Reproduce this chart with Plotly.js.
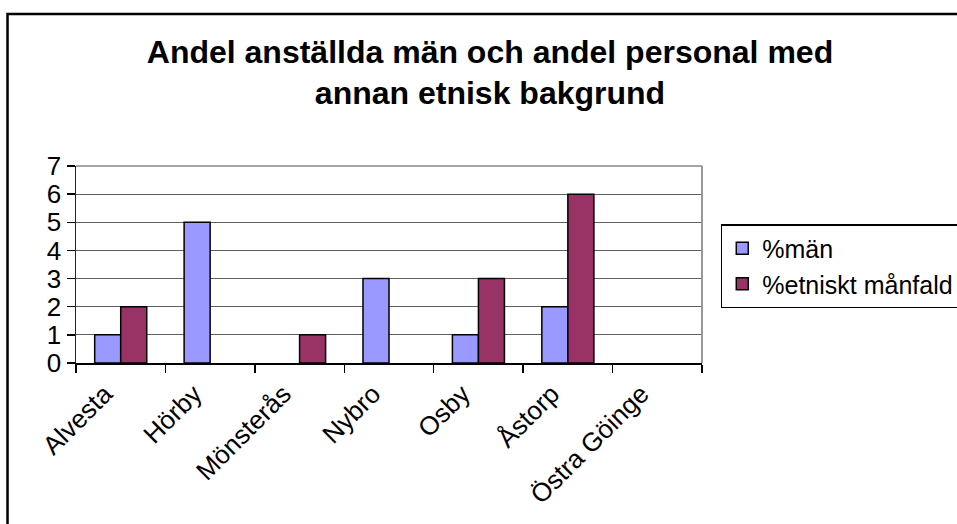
<!DOCTYPE html>
<html>
<head>
<meta charset="utf-8">
<script src="https://cdn.plot.ly/plotly-3.0.1.min.js"></script>
<style>
  html, body { margin: 0; padding: 0; background: #fff; }
  #chart { width: 957px; height: 524px; }
</style>
</head>
<body>
<div id="chart"></div>
<script>
var categories = ["Alvesta", "Hörby", "Mönsterås", "Nybro", "Osby", "Åstorp", "Östra Göinge"];
var seriesNames = ["%män", "%etniskt månfald"];
var menValues = [1, 5, 0, 3, 1, 2, 0];
var ethnicValues = [2, 0, 1, 0, 3, 6, 0];
var yTicks = [0, 1, 2, 3, 4, 5, 6, 7];
var titleText = "Andel anställda män och andel personal med<br>annan etnisk bakgrund";

var FONT = "Liberation Sans, Arial, sans-serif";

function hideZero(arr) { return arr.map(function (v) { return v === 0 ? null : v; }); }

var traces = [
  {
    type: "bar", name: seriesNames[0], x: categories, y: hideZero(menValues),
    marker: { color: "#9999FF", line: { color: "#000", width: 1.5 } },
    legendgroup: "a", hoverinfo: "x+y"
  },
  {
    type: "bar", name: seriesNames[1], x: categories, y: hideZero(ethnicValues),
    marker: { color: "#993366", line: { color: "#000", width: 1.5 } },
    legendgroup: "b", hoverinfo: "x+y"
  }
];

var layout = {
  width: 957, height: 524,
  paper_bgcolor: "#fff", plot_bgcolor: "#fff",
  margin: { l: 76, r: 255, t: 166, b: 161, autoexpand: false },
  font: { family: FONT, color: "#000", size: 26 },
  title: {
    text: titleText,
    font: { family: FONT, size: 32, color: "#000", weight: "bold" },
    xref: "container", x: 0.512, xanchor: "center",
    yref: "container", y: 0.88, yanchor: "top"
  },
  barmode: "group",
  bargap: 0.418,
  bargroupgap: 0,
  showlegend: true,
  legend: {
    x: 1.030, xanchor: "left", y: 0.705, yanchor: "top",
    bordercolor: "#000", borderwidth: 1.5, bgcolor: "#fff",
    font: { family: FONT, size: 25, color: "#000" },
    traceorder: "grouped", tracegroupgap: 0
  },
  xaxis: {
    type: "category",
    tickangle: -45,
    tickson: "boundaries",
    ticks: "outside", ticklen: 8, tickcolor: "#000", tickwidth: 1.5,
    showline: true, linecolor: "#000", linewidth: 1.5,
    showgrid: false, zeroline: false,
    ticklabelshift: -16, ticklabelstandoff: 4,
    tickfont: { family: FONT, size: 26, color: "#000" },
    fixedrange: true
  },
  yaxis: {
    range: [0, 7], tickvals: yTicks,
    ticks: "outside", ticklen: 8, tickcolor: "#000", tickwidth: 1.5,
    showline: true, linecolor: "#222", linewidth: 1.5,
    showgrid: true, gridcolor: "#606060", gridwidth: 1.2,
    zeroline: false,
    tickfont: { family: FONT, size: 26, color: "#000" },
    fixedrange: true
  },
  shapes: [
    { type: "line", xref: "paper", yref: "paper", x0: 1, x1: 1, y0: 0, y1: 1,
      line: { color: "#999", width: 2 } },
    { type: "line", xref: "paper", yref: "paper", x0: 0, x1: 1, y0: 1, y1: 1,
      line: { color: "#888", width: 1.5 } },
    { type: "rect", xref: "paper", yref: "paper", x0: -0.1094, x1: 1.6, y0: -1, y1: 1.7716,
      line: { color: "#000", width: 2.5 }, layer: "below" }
  ]
};

Plotly.newPlot("chart", traces, layout, { displayModeBar: false, staticPlot: true });
</script>
</body>
</html>
